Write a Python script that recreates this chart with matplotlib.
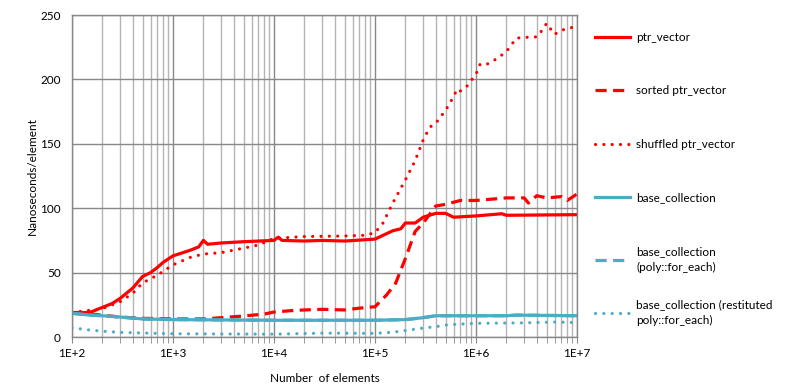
import numpy as np
import matplotlib
matplotlib.use('Agg')
import matplotlib.pyplot as plt
from matplotlib.ticker import LogLocator, NullFormatter

plt.rcParams['font.family'] = ['Lato', 'DejaVu Sans']

# Data (ns per element vs number of elements)
n_ptr = [100, 150, 200, 250, 300, 400, 500, 600, 700, 800, 1000, 1200, 1500, 1800,
         2000, 2200, 3000, 5000, 10000, 11000, 12000, 20000, 30000, 50000, 100000,
         150000, 180000, 200000, 250000, 300000, 400000, 500000, 600000, 1000000,
         1800000, 2000000, 10000000]
ptr = [19, 19, 23, 26, 30, 38, 47, 50, 54, 58, 63, 65, 67.5, 70,
       75, 72, 73, 74, 75, 77.5, 75, 74.5, 75, 74.5, 76,
       82.5, 84, 88.5, 88.5, 93, 96, 96, 93, 94,
       95.7, 94.5, 95]

n_sorted = [100, 200, 300, 500, 1000, 2000, 3000, 5000, 8000, 10000, 15000, 20000,
            30000, 50000, 70000, 100000, 130000, 160000, 200000, 250000, 300000,
            400000, 500000, 700000, 1000000, 2000000, 3000000, 3300000, 4000000,
            5000000, 7000000, 8000000, 10000000]
sorted_ptr = [19, 17, 15.5, 14.5, 14, 14, 15, 16.3, 17.8, 19.4, 20.5, 21,
              21.5, 21, 22.4, 23.5, 32.6, 41.7, 61, 82, 88.5,
              101.7, 103, 106, 106, 108, 108, 104, 109.7,
              108, 109, 106, 111]

n_shuf = [100, 200, 300, 400, 500, 700, 1000, 1500, 2000, 3000, 5000, 7000, 10000,
          20000, 50000, 80000, 100000, 120000, 150000, 200000, 250000, 300000,
          350000, 400000, 500000, 600000, 650000, 700000, 800000, 1000000, 1100000,
          1300000, 1600000, 2000000, 2500000, 3000000, 4000000, 4500000, 5000000,
          5500000, 6000000, 7000000, 8000000, 10000000]
shuffled_ptr = [19, 22, 27.4, 34, 42, 48, 56, 62, 64.4, 65.5, 69, 71.4, 76.6,
                78, 78.4, 79, 81, 88.5, 104, 122, 137, 153,
                163, 166, 176, 186.6, 192.5, 191, 194, 204, 212,
                212, 216, 221.5, 232, 232.6, 233, 238, 243.5,
                239, 235, 238, 239.6, 241]

n_base = [100, 150, 200, 300, 500, 1000, 10000, 100000, 200000, 300000, 400000,
          1000000, 2000000, 2500000, 10000000]
base = [18.4, 17, 16.5, 15.5, 14, 13.5, 13, 13, 13.5, 15, 16.5,
        16.5, 16.5, 17, 16.5]
base_poly = [18.4, 17, 16.5, 15.5, 14, 13.5, 13, 13, 13.5, 15, 16.5,
             16.5, 16.5, 17, 16.5]

n_rest = [100, 150, 200, 300, 1000, 10000, 30000, 100000, 150000, 200000, 300000,
          400000, 500000, 700000, 1000000, 3000000, 6000000, 10000000]
base_rest = [7.2, 5.4, 4.5, 3.6, 2.5, 2.2, 3, 2.8, 3.7, 5, 7,
             8, 9.3, 10, 10.6, 11, 11.6, 11.2]

x_ticks = [1e2, 1e3, 1e4, 1e5, 1e6, 1e7]
x_labels = ['1E+2', '1E+3', '1E+4', '1E+5', '1E+6', '1E+7']
y_ticks = [0, 50, 100, 150, 200, 250]

red = '#ff0000'
teal = '#4bacc6'

fig = plt.figure(figsize=(7.95, 3.9), dpi=100)
ax = fig.add_axes([72 / 795, 1 - 337 / 390, 505 / 795, 322 / 390])

ax.plot(n_ptr, ptr, color=red, lw=2.3, label='ptr_vector')
ax.plot(n_sorted, sorted_ptr, color=red, lw=2.3, dashes=(3.5, 2), label='sorted ptr_vector')
ax.plot(n_shuf, shuffled_ptr, color=red, lw=2.3, dashes=(0.01, 2.6), dash_capstyle='round',
        label='shuffled ptr_vector')
ax.plot(n_base, base, color=teal, lw=2.3, label='base_collection')
ax.plot(n_base, base_poly, color=teal, lw=2.3, dashes=(3.5, 2), label='base_collection\n(poly::for_each)')
ax.plot(n_rest, base_rest, color=teal, lw=2.3, dashes=(0.01, 2.6), dash_capstyle='round',
        label='base_collection (restituted\npoly::for_each)')

ax.set_xscale('log')
ax.set_xlim(1e2, 1e7)
ax.set_ylim(0, 250)
ax.set_xticks(x_ticks)
ax.set_xticklabels(x_labels)
ax.xaxis.set_minor_locator(LogLocator(base=10, subs=np.arange(2, 10)))
ax.xaxis.set_minor_formatter(NullFormatter())
ax.set_yticks(y_ticks)

ax.grid(True, which='major', color='#888888', lw=1)
ax.grid(True, which='minor', axis='x', color='#b4b4b4', lw=1)
ax.set_axisbelow(True)
for s in ax.spines.values():
    s.set_color('#888888')
    s.set_linewidth(1)
ax.tick_params(axis='x', which='both', length=4, color='#888888', labelsize=8.5, pad=4)
ax.tick_params(axis='y', length=0, labelsize=8.5, pad=8)

ax.set_xlabel('Number  of elements', fontsize=8.5, labelpad=10)
ax.set_ylabel('Nanoseconds/element', fontsize=8.5, labelpad=2)

# legend split in two so the last entry sits where Excel put it
handles, labels = ax.get_legend_handles_labels()
leg_opts = dict(loc='upper left', frameon=False, fontsize=8.5, handlelength=3.0,
                handletextpad=0.5, borderpad=0, borderaxespad=0)
leg1 = fig.legend(handles[:5], labels[:5], bbox_to_anchor=(595 / 795, 1 - 32 / 390),
                  labelspacing=3.6, **leg_opts)
leg2 = fig.legend(handles[5:], labels[5:], bbox_to_anchor=(595 / 795, 1 - 299 / 390),
                  **leg_opts)
for leg in (leg1, leg2):
    for t in leg.get_texts():
        t.set_linespacing(1.5)

fig.savefig('out.png', dpi=100)
